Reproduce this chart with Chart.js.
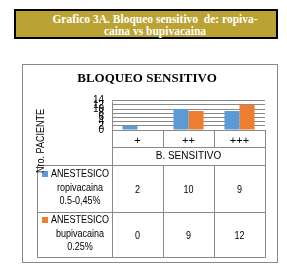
<!DOCTYPE html>
<html>
<head>
<meta charset="utf-8">
<script src="https://cdn.jsdelivr.net/npm/chart.js@4"></script>
<style>
  html, body { margin: 0; padding: 0; background: #fff; }
  body { width: 287px; height: 271px; position: relative; overflow: hidden; }
  #myChart { position: absolute; left: 0; top: 0; }
  .header {
    position: absolute; left: 14px; top: 9px; width: 242px; height: 24px;
    background: #BBA333; border: 2px solid #000;
    color: #fff; font-family: 'Liberation Serif', serif; font-weight: bold;
    font-size: 11.5px; line-height: 12px; text-align: center;
    padding-left: 18px; padding-top: 2px; box-sizing: content-box;
  }
</style>
</head>
<body>
<div class="header">Grafico 3A. Bloqueo sensitivo &nbsp;de: ropiva-<br>caina vs bupivacaina</div>
<canvas id="myChart" width="287" height="271"></canvas>
<script>
// data
const categories = ['+', '++', '+++'];
const seriesNames = [
    ['ANESTESICO', 'ropivacaina', '0.5-0,45%'],
    ['ANESTESICO', 'bupivacaina', '0.25%']
];
const ropivacaina = [2, 10, 9];
const bupivacaina = [0, 9, 12];
const yTicks = [0, 2, 4, 6, 8, 10, 12, 14];

const colors = ['#5B9BD5', '#ED7D31'];
const lineColor = '#898989';
const sansFont = "'Liberation Sans', sans-serif";

// table geometry (under the plot)
const tableLeft = 37;
const rowLines = [165, 212, 257];

// narrow text, a bit like Calibri
function narrowText(c, text, x, y, angle) {
    c.save();
    c.translate(x, y);
    if (angle) c.rotate(angle);
    c.scale(0.82, 1);
    c.fillText(text, 0, 0);
    c.restore();
}

// draws the outer frame, the data table and the y title
const tablePlugin = {
    id: 'dataTable',
    beforeDraw(chart) {
        const c = chart.ctx;
        c.save();
        c.strokeStyle = lineColor;
        c.lineWidth = 1;
        c.strokeRect(22.5, 64.5, 255, 198);
        c.restore();
    },
    afterDraw(chart) {
        const c = chart.ctx;
        const x = chart.scales.x;
        const area = chart.chartArea;
        const step = x.width / categories.length;
        const b = categories.map((_, i) => x.left + i * step).concat([x.right]);
        const px = v => Math.round(v) + 0.5;
        const line = (x1, y1, x2, y2) => {
            c.beginPath();
            c.moveTo(px(x1), px(y1));
            c.lineTo(px(x2), px(y2));
            c.stroke();
        };
        c.save();
        c.strokeStyle = lineColor;
        c.lineWidth = 1;
        // category label row
        line(b[0], 147, b[3], 147);
        line(b[1], area.bottom, b[1], 147);
        line(b[2], area.bottom, b[2], 147);
        line(b[0], area.top, b[0], rowLines[2]);
        line(b[3], area.bottom, b[3], rowLines[2]);
        // data rows
        rowLines.forEach(y => line(tableLeft, y, b[3], y));
        line(tableLeft, rowLines[0], tableLeft, rowLines[2]);
        line(b[1], rowLines[0], b[1], rowLines[2]);
        line(b[2], rowLines[0], b[2], rowLines[2]);

        c.fillStyle = '#000';
        c.font = '11px ' + sansFont;
        c.textAlign = 'center';
        c.textBaseline = 'middle';
        chart.data.datasets.forEach((ds, r) => {
            const mid = (rowLines[r] + rowLines[r + 1]) / 2;
            ds.data.forEach((v, i) => {
                narrowText(c, String(v), x.getPixelForValue(i), mid + 1);
            });
            const names = seriesNames[r];
            const lh = 13.5;
            const y0 = mid - lh * (names.length - 1) / 2 - 1;
            names.forEach((t, k) => narrowText(c, t, 80, y0 + k * lh));
            c.fillStyle = colors[r];
            c.fillRect(42, Math.round(y0) - 3, 6, 6);
            c.fillStyle = '#000';
        });

        // y axis title
        narrowText(c, 'Nro. PACIENTE', 41, 141, -Math.PI / 2);
        c.restore();
    }
};

const ctx = document.getElementById('myChart');
let myChart = new Chart(ctx, {
    type: 'bar',
    data: {
        labels: categories,
        datasets: [
            { label: seriesNames[0].join(' '), data: ropivacaina, backgroundColor: colors[0] },
            { label: seriesNames[1].join(' '), data: bupivacaina, backgroundColor: colors[1] }
        ]
    },
    options: {
        responsive: false,
        animation: false,
        devicePixelRatio: 1,
        categoryPercentage: 0.59,
        barPercentage: 1,
        layout: { padding: { left: 29, right: 22, top: 0, bottom: 0 } },
        plugins: {
            legend: { display: false },
            tooltip: { enabled: false },
            title: {
                display: true,
                text: 'BLOQUEO SENSITIVO',
                color: '#000',
                font: { family: "'Liberation Serif', serif", weight: 'bold', size: 13 },
                padding: { top: 71, bottom: 14 }
            }
        },
        scales: {
            x: {
                offset: true,
                grid: { display: false, drawTicks: false },
                border: { display: true, color: lineColor },
                ticks: { color: '#000', padding: 4, font: { family: sansFont, size: 11 } },
                title: {
                    display: true, text: 'B. SENSITIVO', color: '#000',
                    font: { family: sansFont, size: 10 },
                    padding: { top: 0, bottom: 109 }
                },
                afterFit(scale) { scale.height = 141; }
            },
            y: {
                min: yTicks[0],
                max: yTicks[yTicks.length - 1],
                afterBuildTicks(scale) { scale.ticks = yTicks.map(v => ({ value: v })); },
                grid: { color: lineColor, drawTicks: false },
                border: { display: false },
                ticks: { color: '#000', padding: 8, autoSkip: false, font: { family: sansFont, size: 10 } },
                afterFit(scale) { scale.width = 83; }
            }
        }
    },
    plugins: [tablePlugin]
});
</script>
</body>
</html>
